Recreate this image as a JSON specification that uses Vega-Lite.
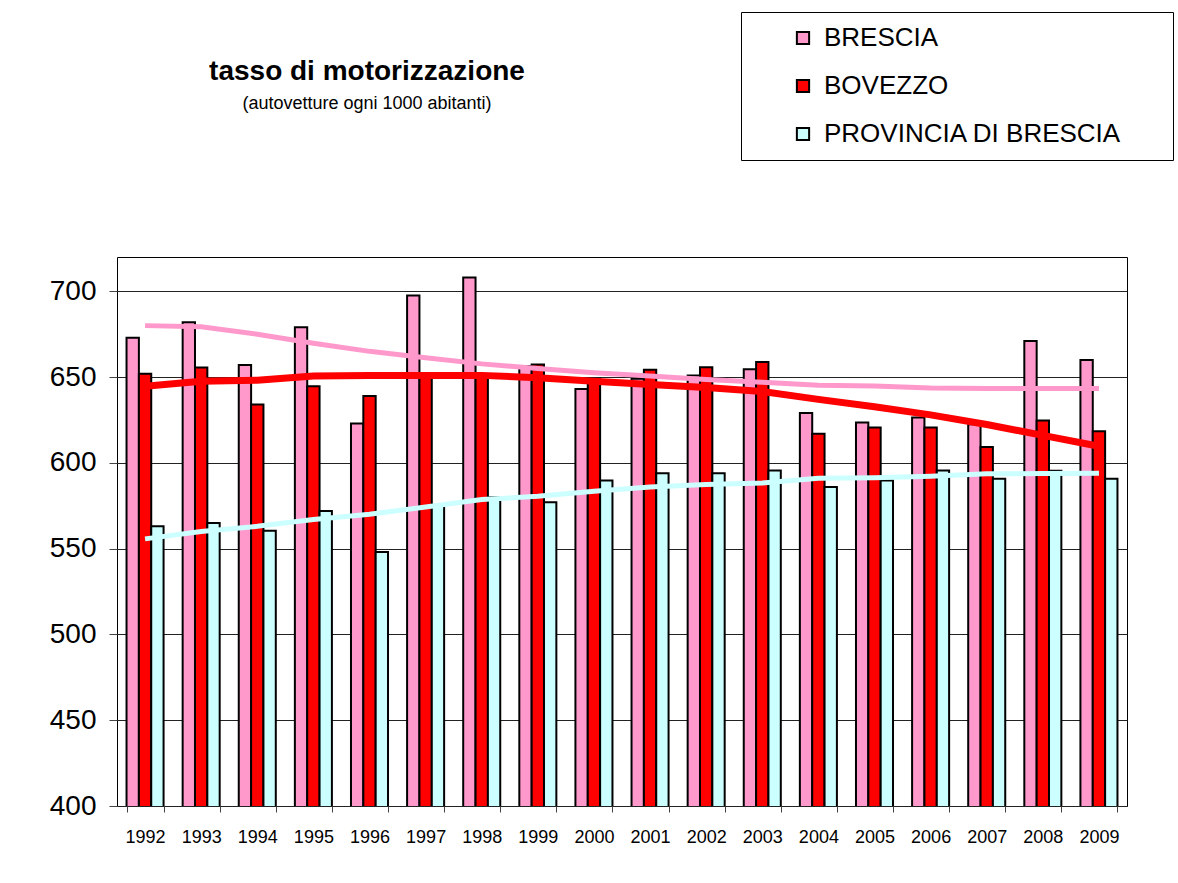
{
  "$schema": "https://vega.github.io/schema/vega-lite/v6.json",
  "width": 1010,
  "height": 549,
  "autosize": {"type": "none"},
  "padding": {"left": 117, "top": 257, "right": 51, "bottom": 77},
  "background": "white",
  "title": {
    "text": "tasso di motorizzazione",
    "subtitle": "(autovetture ogni 1000 abitanti)",
    "anchor": "middle",
    "frame": "group",
    "dx": -255,
    "offset": -101,
    "font": "Liberation Sans",
    "fontSize": 28,
    "fontWeight": "bold",
    "color": "black",
    "subtitleFont": "Liberation Sans",
    "subtitleFontSize": 18,
    "subtitleColor": "black",
    "subtitlePadding": 9
  },
  "datasets": {
    "bars": [
      {"year": "1992", "series": "BRESCIA", "value": 673},
      {"year": "1993", "series": "BRESCIA", "value": 682},
      {"year": "1994", "series": "BRESCIA", "value": 657},
      {"year": "1995", "series": "BRESCIA", "value": 679},
      {"year": "1996", "series": "BRESCIA", "value": 623},
      {"year": "1997", "series": "BRESCIA", "value": 697.5},
      {"year": "1998", "series": "BRESCIA", "value": 708},
      {"year": "1999", "series": "BRESCIA", "value": 656.5},
      {"year": "2000", "series": "BRESCIA", "value": 643},
      {"year": "2001", "series": "BRESCIA", "value": 649},
      {"year": "2002", "series": "BRESCIA", "value": 651},
      {"year": "2003", "series": "BRESCIA", "value": 654.5},
      {"year": "2004", "series": "BRESCIA", "value": 629},
      {"year": "2005", "series": "BRESCIA", "value": 623.5},
      {"year": "2006", "series": "BRESCIA", "value": 626.5},
      {"year": "2007", "series": "BRESCIA", "value": 622.5},
      {"year": "2008", "series": "BRESCIA", "value": 671},
      {"year": "2009", "series": "BRESCIA", "value": 660},
      {"year": "1992", "series": "BOVEZZO", "value": 652},
      {"year": "1993", "series": "BOVEZZO", "value": 655.6},
      {"year": "1994", "series": "BOVEZZO", "value": 634},
      {"year": "1995", "series": "BOVEZZO", "value": 644.6},
      {"year": "1996", "series": "BOVEZZO", "value": 639},
      {"year": "1997", "series": "BOVEZZO", "value": 650},
      {"year": "1998", "series": "BOVEZZO", "value": 650},
      {"year": "1999", "series": "BOVEZZO", "value": 657.4},
      {"year": "2000", "series": "BOVEZZO", "value": 649},
      {"year": "2001", "series": "BOVEZZO", "value": 654.3},
      {"year": "2002", "series": "BOVEZZO", "value": 655.8},
      {"year": "2003", "series": "BOVEZZO", "value": 658.8},
      {"year": "2004", "series": "BOVEZZO", "value": 617},
      {"year": "2005", "series": "BOVEZZO", "value": 620.6},
      {"year": "2006", "series": "BOVEZZO", "value": 620.6},
      {"year": "2007", "series": "BOVEZZO", "value": 609.3},
      {"year": "2008", "series": "BOVEZZO", "value": 624.7},
      {"year": "2009", "series": "BOVEZZO", "value": 618.5},
      {"year": "1992", "series": "PROVINCIA DI BRESCIA", "value": 563},
      {"year": "1993", "series": "PROVINCIA DI BRESCIA", "value": 565},
      {"year": "1994", "series": "PROVINCIA DI BRESCIA", "value": 560.5},
      {"year": "1995", "series": "PROVINCIA DI BRESCIA", "value": 572},
      {"year": "1996", "series": "PROVINCIA DI BRESCIA", "value": 548},
      {"year": "1997", "series": "PROVINCIA DI BRESCIA", "value": 575.5},
      {"year": "1998", "series": "PROVINCIA DI BRESCIA", "value": 580},
      {"year": "1999", "series": "PROVINCIA DI BRESCIA", "value": 577},
      {"year": "2000", "series": "PROVINCIA DI BRESCIA", "value": 589.7},
      {"year": "2001", "series": "PROVINCIA DI BRESCIA", "value": 594},
      {"year": "2002", "series": "PROVINCIA DI BRESCIA", "value": 594},
      {"year": "2003", "series": "PROVINCIA DI BRESCIA", "value": 595.5},
      {"year": "2004", "series": "PROVINCIA DI BRESCIA", "value": 586},
      {"year": "2005", "series": "PROVINCIA DI BRESCIA", "value": 589.7},
      {"year": "2006", "series": "PROVINCIA DI BRESCIA", "value": 595.5},
      {"year": "2007", "series": "PROVINCIA DI BRESCIA", "value": 590.7},
      {"year": "2008", "series": "PROVINCIA DI BRESCIA", "value": 595.4},
      {"year": "2009", "series": "PROVINCIA DI BRESCIA", "value": 590.7}
    ],
    "trends": [
      {"year": "1992", "series": "BRESCIA", "trend": 680},
      {"year": "1993", "series": "BRESCIA", "trend": 679.4},
      {"year": "1994", "series": "BRESCIA", "trend": 675},
      {"year": "1995", "series": "BRESCIA", "trend": 669.7},
      {"year": "1996", "series": "BRESCIA", "trend": 665},
      {"year": "1997", "series": "BRESCIA", "trend": 661.3},
      {"year": "1998", "series": "BRESCIA", "trend": 657.7},
      {"year": "1999", "series": "BRESCIA", "trend": 655},
      {"year": "2000", "series": "BRESCIA", "trend": 652.6},
      {"year": "2001", "series": "BRESCIA", "trend": 650.6},
      {"year": "2002", "series": "BRESCIA", "trend": 648.6},
      {"year": "2003", "series": "BRESCIA", "trend": 647},
      {"year": "2004", "series": "BRESCIA", "trend": 645.3},
      {"year": "2005", "series": "BRESCIA", "trend": 644.8},
      {"year": "2006", "series": "BRESCIA", "trend": 643.6},
      {"year": "2007", "series": "BRESCIA", "trend": 643.4},
      {"year": "2008", "series": "BRESCIA", "trend": 643.4},
      {"year": "2009", "series": "BRESCIA", "trend": 643.4},
      {"year": "1992", "series": "PROVINCIA DI BRESCIA", "trend": 555.7},
      {"year": "1993", "series": "PROVINCIA DI BRESCIA", "trend": 560},
      {"year": "1994", "series": "PROVINCIA DI BRESCIA", "trend": 563},
      {"year": "1995", "series": "PROVINCIA DI BRESCIA", "trend": 567},
      {"year": "1996", "series": "PROVINCIA DI BRESCIA", "trend": 570},
      {"year": "1997", "series": "PROVINCIA DI BRESCIA", "trend": 574.3},
      {"year": "1998", "series": "PROVINCIA DI BRESCIA", "trend": 578.6},
      {"year": "1999", "series": "PROVINCIA DI BRESCIA", "trend": 580.5},
      {"year": "2000", "series": "PROVINCIA DI BRESCIA", "trend": 583.5},
      {"year": "2001", "series": "PROVINCIA DI BRESCIA", "trend": 586},
      {"year": "2002", "series": "PROVINCIA DI BRESCIA", "trend": 587.4},
      {"year": "2003", "series": "PROVINCIA DI BRESCIA", "trend": 588.3},
      {"year": "2004", "series": "PROVINCIA DI BRESCIA", "trend": 591},
      {"year": "2005", "series": "PROVINCIA DI BRESCIA", "trend": 591.3},
      {"year": "2006", "series": "PROVINCIA DI BRESCIA", "trend": 592.2},
      {"year": "2007", "series": "PROVINCIA DI BRESCIA", "trend": 593.6},
      {"year": "2008", "series": "PROVINCIA DI BRESCIA", "trend": 593.8},
      {"year": "2009", "series": "PROVINCIA DI BRESCIA", "trend": 594},
      {"year": "1992", "series": "BOVEZZO", "trend": 644.7},
      {"year": "1993", "series": "BOVEZZO", "trend": 647.6},
      {"year": "1994", "series": "BOVEZZO", "trend": 648.2},
      {"year": "1995", "series": "BOVEZZO", "trend": 650.6},
      {"year": "1996", "series": "BOVEZZO", "trend": 651},
      {"year": "1997", "series": "BOVEZZO", "trend": 651},
      {"year": "1998", "series": "BOVEZZO", "trend": 651},
      {"year": "1999", "series": "BOVEZZO", "trend": 649.6},
      {"year": "2000", "series": "BOVEZZO", "trend": 647.6},
      {"year": "2001", "series": "BOVEZZO", "trend": 645.7},
      {"year": "2002", "series": "BOVEZZO", "trend": 644},
      {"year": "2003", "series": "BOVEZZO", "trend": 641.6},
      {"year": "2004", "series": "BOVEZZO", "trend": 637},
      {"year": "2005", "series": "BOVEZZO", "trend": 632.7},
      {"year": "2006", "series": "BOVEZZO", "trend": 628},
      {"year": "2007", "series": "BOVEZZO", "trend": 622.4},
      {"year": "2008", "series": "BOVEZZO", "trend": 616},
      {"year": "2009", "series": "BOVEZZO", "trend": 609.7}
    ]
  },
  "config": {
    "view": {"stroke": "black", "strokeWidth": 1},
    "font": "Liberation Sans",
    "legend": {
      "title": null,
      "orient": "none",
      "legendX": 624,
      "legendY": -245,
      "strokeColor": "black",
      "fillColor": "white",
      "padding": 13,
      "symbolOffset": 36,
      "symbolType": "square",
      "symbolSize": 150,
      "symbolStrokeWidth": 2,
      "symbolOpacity": 1,
      "labelFont": "Liberation Sans",
      "labelFontSize": 26,
      "labelColor": "black",
      "labelOffset": 8,
      "labelLimit": 500,
      "rowPadding": 22
    }
  },
  "encoding": {
    "x": {
      "field": "year",
      "type": "ordinal",
      "scale": {"paddingInner": 0.34, "paddingOuter": 0.17},
      "axis": {
        "title": null,
        "labelAngle": 0,
        "labelFont": "Liberation Sans",
        "labelFontSize": 18,
        "labelColor": "black",
        "labelPadding": 16,
        "tickBand": "extent",
        "tickSize": 6,
        "tickColor": "#444",
        "domain": false,
        "grid": false
      }
    },
    "y": {
      "type": "quantitative",
      "scale": {"domain": [400, 720], "nice": false, "zero": false},
      "axis": {
        "title": null,
        "values": [400, 450, 500, 550, 600, 650, 700],
        "labelFont": "Liberation Sans",
        "labelFontSize": 28,
        "labelColor": "black",
        "labelPadding": 13,
        "tickSize": 8,
        "tickColor": "#444",
        "domain": false,
        "grid": true,
        "gridColor": "#222",
        "gridOpacity": 1,
        "gridWidth": 1
      }
    }
  },
  "layer": [
    {
      "data": {"name": "bars"},
      "mark": {"type": "bar", "strokeWidth": 2, "clip": true},
      "encoding": {
        "y": {"field": "value", "type": "quantitative"},
        "xOffset": {
          "field": "series",
          "type": "nominal",
          "scale": {"domain": ["BRESCIA", "BOVEZZO", "PROVINCIA DI BRESCIA"], "paddingInner": 0, "paddingOuter": 0}
        },
        "fill": {
          "field": "series",
          "type": "nominal",
          "scale": {
            "domain": ["BRESCIA", "BOVEZZO", "PROVINCIA DI BRESCIA"],
            "range": ["#FF99CC", "#FF0000", "#CCFFFF"]
          },
          "legend": {
            "rowPadding": 22,
            "labelExpr": "datum.label + '\u2800\u2800'"
          }
        },
        "stroke": {
          "field": "series",
          "type": "nominal",
          "scale": {
            "domain": ["BRESCIA", "BOVEZZO", "PROVINCIA DI BRESCIA"],
            "range": ["black", "black", "black"]
          },
          "legend": {
            "rowPadding": 22,
            "labelExpr": "datum.label + '\u2800\u2800'"
          }
        }
      }
    },
    {
      "data": {"name": "trends"},
      "transform": [{"filter": "datum.series === 'BRESCIA'"}],
      "mark": {"type": "line", "color": "#FF99CC", "strokeWidth": 5},
      "encoding": {
        "y": {"field": "trend", "type": "quantitative"},
        "order": {"field": "year"}
      }
    },
    {
      "data": {"name": "trends"},
      "transform": [{"filter": "datum.series === 'PROVINCIA DI BRESCIA'"}],
      "mark": {"type": "line", "color": "#CCFFFF", "strokeWidth": 5},
      "encoding": {
        "y": {"field": "trend", "type": "quantitative"},
        "order": {"field": "year"}
      }
    },
    {
      "data": {"name": "trends"},
      "transform": [{"filter": "datum.series === 'BOVEZZO'"}],
      "mark": {"type": "line", "color": "#FF0000", "strokeWidth": 7},
      "encoding": {
        "y": {"field": "trend", "type": "quantitative"},
        "order": {"field": "year"}
      }
    }
  ]
}
